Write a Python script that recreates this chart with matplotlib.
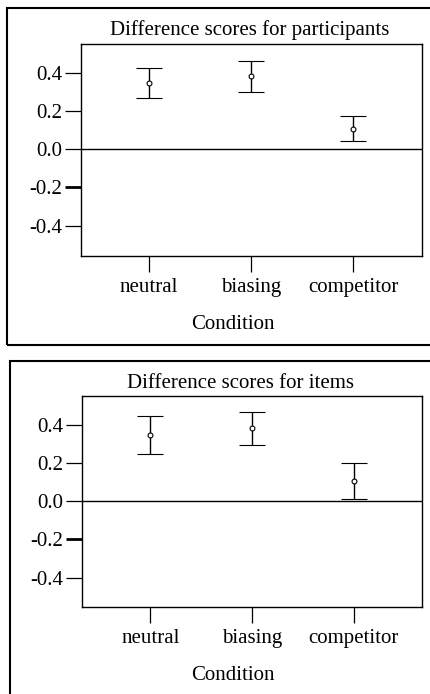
import matplotlib
matplotlib.use("Agg")
import matplotlib.pyplot as plt
from matplotlib.patches import Rectangle
import numpy as np

plt.rcParams['font.family'] = ['Liberation Serif', 'DejaVu Serif']

categories = ["neutral", "biasing", "competitor"]
titles = ["Difference scores for participants", "Difference scores for items"]
xlabel = "Condition"
yticks = [-0.4, -0.2, 0.0, 0.2, 0.4]
ytick_labels = ["-0.4", "-0.2", "0.0", "0.2", "0.4"]

part_mean = [0.350, 0.383, 0.108]
part_lower = [0.271, 0.301, 0.042]
part_upper = [0.427, 0.462, 0.173]

item_mean = [0.347, 0.382, 0.106]
item_lower = [0.246, 0.296, 0.012]
item_upper = [0.448, 0.469, 0.199]

W, H = 430, 694
fig = plt.figure(figsize=(W / 100, H / 100), dpi=100)

def px(x0, y0, x1, y1):
    return [x0 / W, 1 - y1 / H, (x1 - x0) / W, (y1 - y0) / H]

panels = [
    (px(80.7, 43.7, 421.7, 256.0), titles[0], part_mean, part_lower, part_upper, (-0.56, 0.555), 0.497),
    (px(82.3, 396.0, 421.7, 607.3), titles[1], item_mean, item_lower, item_upper, (-0.555, 0.551), 0.465),
]

FS = 15
for rect, title, mean, lo, hi, ylim, tx in panels:
    ax = fig.add_axes(rect)
    x = np.arange(1, len(categories) + 1)
    mean = np.array(mean); lo = np.array(lo); hi = np.array(hi)
    ax.errorbar(x, mean, yerr=[mean - lo, hi - mean], fmt='o', color='black',
                mfc='white', mec='black', ms=3.5, mew=0.8, elinewidth=1.0,
                capsize=9.5, capthick=1.3)
    ax.axhline(0, color='black', lw=1.0)
    ax.set_xlim(0.33, 3.67)
    ax.set_ylim(*ylim)
    ax.set_xticks(x)
    ax.set_xticklabels(categories)
    ax.set_yticks(yticks)
    ax.set_yticklabels(ytick_labels)
    ax.tick_params(axis='both', direction='out', length=11.5, width=0.9,
                   labelsize=FS, color='black')
    ax.tick_params(axis='y', pad=2)
    ax.tick_params(axis='x', pad=4)
    ax.yaxis.get_major_ticks()[1].tick1line.set_markeredgewidth(2.0)
    for s in ax.spines.values():
        s.set_linewidth(1.0)
    ax.set_title(title, fontsize=FS, pad=6, x=tx)
    ax.set_xlabel(xlabel, fontsize=FS)
    ax.xaxis.set_label_coords(0.445, -0.28)

# outer frames
fig.add_artist(Rectangle((7.0 / W, 1 - 345.0 / H), (440 - 7.0) / W, (345.0 - 8.5) / H,
                         transform=fig.transFigure, fill=False, ec='black', lw=1.5, clip_on=False))
fig.add_artist(Rectangle((10.0 / W, 1 - 720.0 / H), (440 - 10.0) / W, (720.0 - 360.7) / H,
                         transform=fig.transFigure, fill=False, ec='black', lw=1.5, clip_on=False))

fig.savefig("out.png", dpi=100)
